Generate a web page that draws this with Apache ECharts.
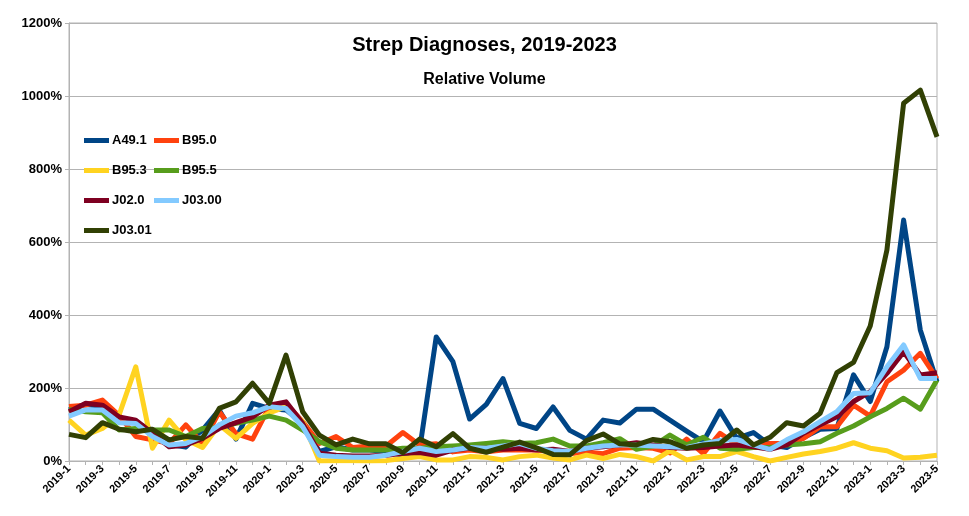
<!DOCTYPE html>
<html><head><meta charset="utf-8">
<script src="https://cdn.jsdelivr.net/npm/echarts@6/dist/echarts.min.js"></script>
<style>html,body{margin:0;padding:0;background:#fff}#c{width:969px;height:516px}</style>
</head><body><div id="c"></div>
<script>
const years = [2019, 2020, 2021, 2022, 2023];
const categories = [];
years.forEach(y => { for (let m = 1; m <= 12; m++) { if (y === 2023 && m > 5) break; categories.push(y + '-' + m); } });

const seriesNames = ['A49.1', 'B95.0', 'B95.3', 'B95.5', 'J02.0', 'J03.00', 'J03.01'];
const a491 = [140,155,150,118,105,85,45,38,85,140,60,158,144,140,103,26,39,30,30,26,16,30,340,272,115,155,226,103,89,148,84,60,112,104,142,142,112,82,53,137,62,78,44,37,64,87,89,236,163,313,660,359,217];
const b950 = [149,153,167,125,67,58,48,99,48,135,75,60,149,158,108,48,67,37,41,41,78,44,47,25,30,25,30,30,30,25,20,25,20,35,37,35,22,60,20,76,45,40,48,48,62,94,94,153,123,217,249,295,226];
const b953 = [112,71,89,126,258,35,112,58,37,99,62,103,132,149,108,0,1,1,0,1,7,12,3,3,12,10,3,12,16,8,3,16,7,18,12,0,28,3,12,12,26,12,0,10,19,26,35,50,35,28,8,10,16];
const b955 = [141,135,132,85,89,85,85,67,89,92,103,112,123,112,85,53,35,30,30,30,35,35,39,41,44,48,53,48,50,60,41,41,50,61,32,41,71,44,65,35,32,37,37,44,47,53,76,96,121,144,172,142,222];
const j020 = [135,158,153,121,112,76,39,44,62,89,105,121,153,162,103,21,16,14,14,16,21,23,16,30,35,35,32,35,30,32,26,35,39,44,50,44,37,35,37,41,44,39,32,44,76,99,121,163,190,240,299,236,242];
const j0300 = [123,140,140,105,103,67,44,48,67,99,123,132,149,144,94,16,12,10,10,16,26,35,26,30,37,35,41,48,35,28,26,35,41,44,44,41,39,37,47,56,59,44,32,58,80,108,135,185,187,258,318,226,226];
const j0301 = [73,64,105,87,80,87,58,67,62,144,162,213,158,290,135,71,44,60,47,47,23,60,39,75,35,24,38,52,36,18,17,56,74,47,44,59,53,35,44,48,85,44,65,105,96,131,242,270,370,578,980,1016,888];
const seriesValues = [a491, b950, b953, b955, j020, j0300, j0301];
const colors = ['#004586', '#ff420e', '#ffd320', '#579d1c', '#7e0021', '#83caff', '#314004'];
const yTicks = [0, 200, 400, 600, 800, 1000, 1200];

const font = 'Liberation Sans, Arial, sans-serif';
const legendPos = [[84,134],[154,134],[84,164],[154,164],[84,194],[154,194],[84,224]];

const chart = echarts.init(document.getElementById('c'), null, {renderer: 'canvas'});
chart.setOption({
  animation: false,
  backgroundColor: '#ffffff',
  color: colors,
  title: [
    {text: 'Strep Diagnoses, 2019-2023', left: 'center', top: 30,
     textStyle: {fontFamily: font, fontSize: 20, fontWeight: 'bold', color: '#000'}},
    {text: 'Relative Volume', left: 'center', top: 67,
     textStyle: {fontFamily: font, fontSize: 16, fontWeight: 'bold', color: '#000'}}
  ],
  legend: seriesNames.map((n, i) => ({
    data: [n], left: legendPos[i][0], top: legendPos[i][1], padding: 0,
    icon: 'rect', itemWidth: 25, itemHeight: 5,
    textStyle: {fontFamily: font, fontSize: 13, fontWeight: 'bold', color: '#000', padding: [0,0,0,-2]}
  })),
  grid: {left: 69, right: 32, top: 23, bottom: 55, show: true, borderColor: '#b3b3b3', borderWidth: 1},
  xAxis: {
    type: 'category', data: categories, boundaryGap: false,
    axisLine: {lineStyle: {color: '#b3b3b3'}},
    axisTick: {show: true, interval: 0, length: 4, lineStyle: {color: '#b3b3b3'}},
    axisLabel: {interval: 1, rotate: 45, fontFamily: font, fontSize: 11, fontWeight: 'bold', color: '#000', margin: 6},
    splitLine: {show: false}
  },
  yAxis: {
    type: 'value', min: yTicks[0], max: yTicks[yTicks.length - 1], interval: 200,
    axisLine: {show: true, lineStyle: {color: '#b3b3b3'}},
    axisTick: {show: true, length: 4, lineStyle: {color: '#b3b3b3'}},
    axisLabel: {formatter: v => String(v) + '%', fontFamily: font, fontSize: 13, fontWeight: 'bold', color: '#000', margin: 7},
    splitLine: {lineStyle: {color: '#b3b3b3'}}
  },
  series: seriesNames.map((n, i) => ({
    name: n, type: 'line', data: seriesValues[i], showSymbol: false, symbol: 'none',
    lineStyle: {width: 5, color: colors[i], join: 'round'}, itemStyle: {color: colors[i]}
  }))
});
</script></body></html>
